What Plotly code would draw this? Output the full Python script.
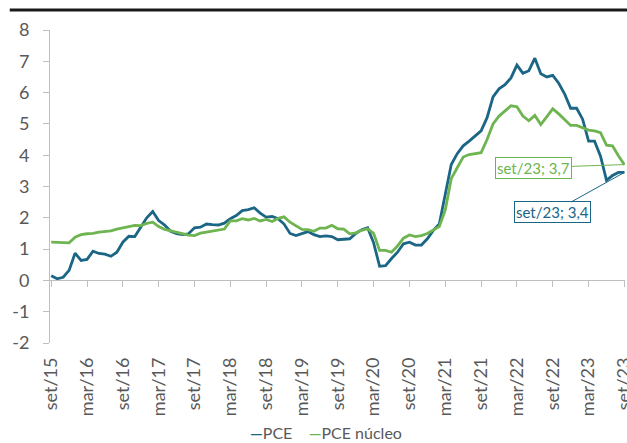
import plotly.graph_objects as go

# ---- data ----
month_abbr = ["jan", "fev", "mar", "abr", "mai", "jun", "jul", "ago", "set", "out", "nov", "dez"]
months = []
for k in range(97):
    m = (8 + k) % 12
    y = 15 + (8 + k) // 12
    months.append(f"{month_abbr[m]}/{y:02d}")

pce = [0.15, 0.05, 0.1, 0.32, 0.87, 0.64, 0.67, 0.93, 0.86, 0.84,
       0.77, 0.9, 1.22, 1.41, 1.4, 1.68, 2.0, 2.2, 1.91, 1.77,
       1.57, 1.49, 1.46, 1.49, 1.68, 1.7, 1.8, 1.78, 1.77, 1.83,
       1.97, 2.07, 2.23, 2.26, 2.32, 2.15, 2.02, 2.04, 1.97, 1.8,
       1.5, 1.43, 1.5, 1.56, 1.46, 1.4, 1.42, 1.4, 1.3, 1.32,
       1.33, 1.5, 1.62, 1.68, 1.2, 0.45, 0.47, 0.7, 0.9, 1.17,
       1.22, 1.13, 1.13, 1.33, 1.6, 1.8, 2.7, 3.7, 4.05, 4.3,
       4.45, 4.62, 4.78, 5.2, 5.86, 6.12, 6.25, 6.47, 6.88, 6.62,
       6.7, 7.1, 6.6, 6.5, 6.55, 6.3, 5.95, 5.5, 5.5, 5.15,
       4.45, 4.45, 3.97, 3.2, 3.35, 3.45, 3.45]

pce_nucleo = [1.22, 1.21, 1.19, 1.2, 1.38, 1.46, 1.49, 1.5, 1.54, 1.56,
              1.58, 1.64, 1.68, 1.7, 1.76, 1.75, 1.82, 1.86, 1.72, 1.63,
              1.58, 1.55, 1.5, 1.45, 1.43, 1.51, 1.54, 1.57, 1.61, 1.64,
              1.9, 1.9, 1.97, 1.93, 1.98, 1.9, 1.95, 1.88, 1.98, 2.03,
              1.86, 1.74, 1.63, 1.62, 1.57, 1.67, 1.67, 1.76, 1.65, 1.64,
              1.49, 1.52, 1.6, 1.65, 1.5, 0.96, 0.96, 0.9, 1.1, 1.35,
              1.45, 1.4, 1.43, 1.5, 1.62, 1.72, 2.25, 3.25, 3.6, 3.94,
              4.02, 4.05, 4.08, 4.5, 5.0, 5.25, 5.4, 5.58, 5.55, 5.25,
              5.1, 5.27, 4.98, 5.22, 5.48, 5.32, 5.15, 4.95, 4.95, 4.88,
              4.8, 4.78, 4.72, 4.32, 4.3, 3.98, 3.7]

tick_labels = ["set/15", "mar/16", "set/16", "mar/17", "set/17", "mar/18", "set/18",
               "mar/19", "set/19", "mar/20", "set/20", "mar/21", "set/21", "mar/22",
               "set/22", "mar/23", "set/23"]
y_ticks = [-2, -1, 0, 1, 2, 3, 4, 5, 6, 7, 8]
y_tick_text = ["-2", "-1", "0", "1", "2", "3", "4", "5", "6", "7", "8"]

label_pce = "set/23; 3,4"
label_nucleo = "set/23; 3,7"

BLUE = "#1B6585"
GREEN = "#6EB450"
GRAY = "#595959"
AXIS = "#BFBFBF"
FONT = "Lato, 'Open Sans', sans-serif"

fig = go.Figure()
fig.add_trace(go.Scatter(x=months, y=pce, mode="lines", name="PCE",
                         line=dict(color=BLUE, width=2.8), showlegend=False))
fig.add_trace(go.Scatter(x=months, y=pce_nucleo, mode="lines", name="PCE núcleo",
                         line=dict(color=GREEN, width=2.8), showlegend=False))
# invisible trace on secondary x-axis (zero line with tick marks)
fig.add_trace(go.Scatter(x=months, y=pce, mode="lines", xaxis="x2",
                         line=dict(color="rgba(0,0,0,0)"), showlegend=False,
                         hoverinfo="skip"))

fig.update_layout(
    width=627, height=443,
    margin=dict(l=50, r=2, t=30, b=100),
    paper_bgcolor="white", plot_bgcolor="white",
    font=dict(family=FONT, color=GRAY, size=16),
    xaxis=dict(type="category", range=[-0.2, 96.1], tickmode="array",
               tickvals=tick_labels, ticktext=tick_labels, tickangle=-90,
               showgrid=False, zeroline=False, showline=False, ticks="",
               ticklabelstandoff=10,
               automargin=False, tickfont=dict(size=18, color=GRAY)),
    xaxis2=dict(type="category", range=[-0.2, 96.1], overlaying="x",
                anchor="free", position=0.2, side="bottom",
                tickmode="array", tickvals=tick_labels, showticklabels=False,
                ticks="outside", ticklen=6, tickcolor=AXIS, tickwidth=1,
                showline=True, linecolor=AXIS, linewidth=1,
                showgrid=False, zeroline=False, automargin=False),
    yaxis=dict(range=[-2, 8], tickmode="array", tickvals=y_ticks, ticktext=y_tick_text,
               showgrid=False, zeroline=False, automargin=False,
               showline=True, linecolor=AXIS, linewidth=1,
               ticks="outside", ticklen=6, tickcolor=AXIS,
               ticklabelstandoff=10,
               tickfont=dict(size=18, color=GRAY)),
    hovermode=False,
)

# top rule
fig.add_shape(type="line", xref="paper", yref="paper",
              x0=-0.07, x1=1.01, y0=1.064, y1=1.064,
              line=dict(color="#1a1a1a", width=3))

# data labels
fig.add_annotation(x=months[-1], y=pce_nucleo[-1], text=label_nucleo,
                   showarrow=True, arrowhead=0, arrowwidth=1, arrowcolor=GREEN,
                   ax=-91, ay=3, font=dict(size=15, color=GREEN),
                   bordercolor=GREEN, borderwidth=1, borderpad=1, bgcolor="white")
fig.add_annotation(x=months[-1], y=pce[-1], text=label_pce,
                   showarrow=True, arrowhead=0, arrowwidth=1, arrowcolor=BLUE,
                   ax=-72, ay=40, font=dict(size=15, color=BLUE),
                   bordercolor=BLUE, borderwidth=1, borderpad=1, bgcolor="white")

# legend
legend_text = (f"<span style='color:{BLUE}'><b>—</b></span>PCE    "
               f"<span style='color:{GREEN}'><b>—</b></span>PCE núcleo")
fig.add_annotation(xref="paper", yref="paper", x=0.48, y=-0.2875,
                   text=legend_text, showarrow=False,
                   font=dict(size=16, color=GRAY), xanchor="center", yanchor="middle")

fig.write_html("out.html", config={"displayModeBar": False},
               post_script="document.body.style.margin='0';document.body.style.overflow='hidden';")
